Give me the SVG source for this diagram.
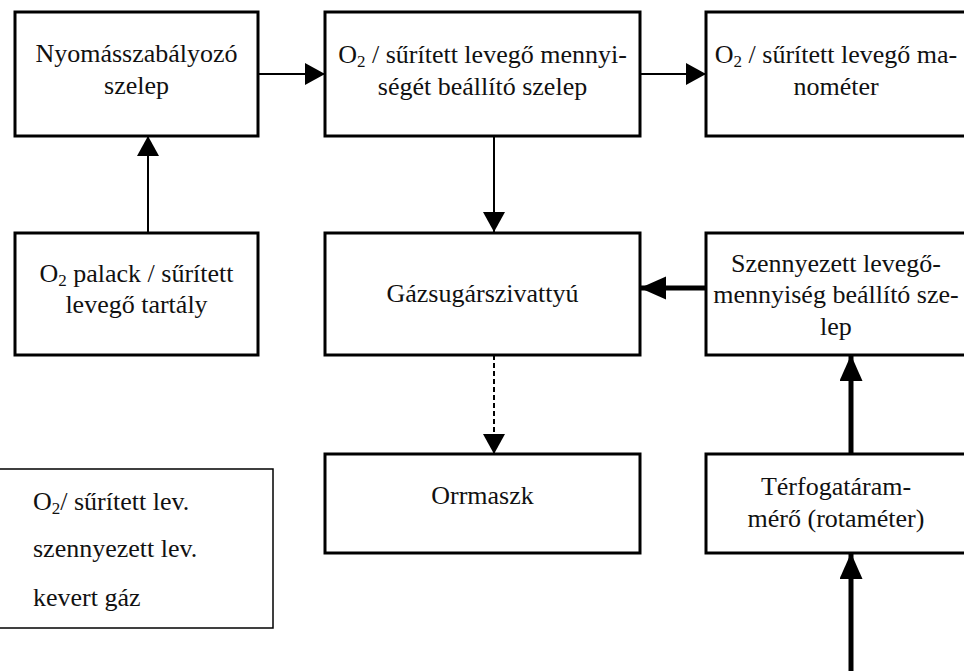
<svg xmlns="http://www.w3.org/2000/svg" width="964" height="671" viewBox="0 0 964 671">
<style>
.box{fill:#fff;stroke:#000;stroke-width:3}
.t{font-family:'Liberation Serif','Times New Roman',serif;font-size:26px;fill:#111;text-anchor:middle}
.lg{font-family:'Liberation Serif','Times New Roman',serif;font-size:26px;fill:#111}
.sub{font-size:17px}
.thin{stroke:#000;stroke-width:2;fill:none}
.thick{stroke:#000;stroke-width:5;fill:none}
</style>
<defs>
<marker id="ah" markerUnits="userSpaceOnUse" markerWidth="22" markerHeight="24" refX="20" refY="11" orient="auto">
<path d="M0,0 L20,11 L0,22 Z" fill="#000"/>
</marker>
<marker id="ahk" markerUnits="userSpaceOnUse" markerWidth="28" markerHeight="24" refX="26" refY="11.5" orient="auto">
<path d="M0,0 L26,11.5 L0,23 Z" fill="#000"/>
</marker>
</defs>
<g id="connectors">
<line class="thin" x1="258" y1="74" x2="325" y2="74" marker-end="url(#ah)"/>
<line class="thin" x1="640" y1="74" x2="706" y2="74" marker-end="url(#ah)"/>
<line class="thin" x1="148" y1="233" x2="148" y2="136" marker-end="url(#ah)"/>
<line class="thin" x1="494" y1="136" x2="494" y2="232" marker-end="url(#ah)"/>
<line class="thin" x1="494" y1="355" x2="494" y2="454" stroke-dasharray="5,3" marker-end="url(#ah)"/>
<line class="thick" x1="706" y1="288" x2="640" y2="288" marker-end="url(#ahk)"/>
<line class="thick" x1="851" y1="454" x2="851" y2="355" marker-end="url(#ahk)"/>
<line class="thick" x1="851" y1="671" x2="851" y2="553" marker-end="url(#ahk)"/>
</g>
<g id="n1">
<rect class="box" x="15" y="12" width="243" height="124"/>
<text class="t" x="136.5" y="62">Nyomásszabályozó</text>
<text class="t" x="136.5" y="94">szelep</text>
</g>
<g id="n2">
<rect class="box" x="325" y="12" width="315" height="124"/>
<text class="t" x="482.5" y="63">O<tspan class="sub" dy="4">2</tspan><tspan dy="-4"> / sűrített levegő mennyi-</tspan></text>
<text class="t" x="482.5" y="95">ségét beállító szelep</text>
</g>
<g id="n3">
<rect class="box" x="706" y="12" width="262" height="124"/>
<text class="t" x="836" y="63">O<tspan class="sub" dy="4">2</tspan><tspan dy="-4"> / sűrített levegő ma-</tspan></text>
<text class="t" x="836" y="95">nométer</text>
</g>
<g id="n4">
<rect class="box" x="15" y="233" width="243" height="122"/>
<text class="t" x="136.5" y="282">O<tspan class="sub" dy="4">2</tspan><tspan dy="-4"> palack / sűrített</tspan></text>
<text class="t" x="136.5" y="313">levegő tartály</text>
</g>
<g id="n5">
<rect class="box" x="325" y="233" width="315" height="122"/>
<text class="t" x="482.5" y="302">Gázsugárszivattyú</text>
</g>
<g id="n6">
<rect class="box" x="706" y="233" width="262" height="122"/>
<text class="t" x="836" y="272">Szennyezett levegő-</text>
<text class="t" x="836" y="303">mennyiség beállító sze-</text>
<text class="t" x="836" y="335">lep</text>
</g>
<g id="n7">
<rect class="box" x="325" y="454" width="315" height="99"/>
<text class="t" x="482.5" y="504">Orrmaszk</text>
</g>
<g id="n8">
<rect class="box" x="706" y="454" width="262" height="99"/>
<text class="t" x="836" y="495">Térfogatáram-</text>
<text class="t" x="836" y="527">mérő (rotaméter)</text>
</g>
<g id="legend">
<rect x="-2" y="469" width="275" height="159" fill="#fff" stroke="#000" stroke-width="1.5"/>
<text class="lg" x="33" y="510">O<tspan class="sub" dy="4">2</tspan><tspan dy="-4">/ sűrített lev.</tspan></text>
<text class="lg" x="33" y="557">szennyezett lev.</text>
<text class="lg" x="33" y="606">kevert gáz</text>
</g>
</svg>
